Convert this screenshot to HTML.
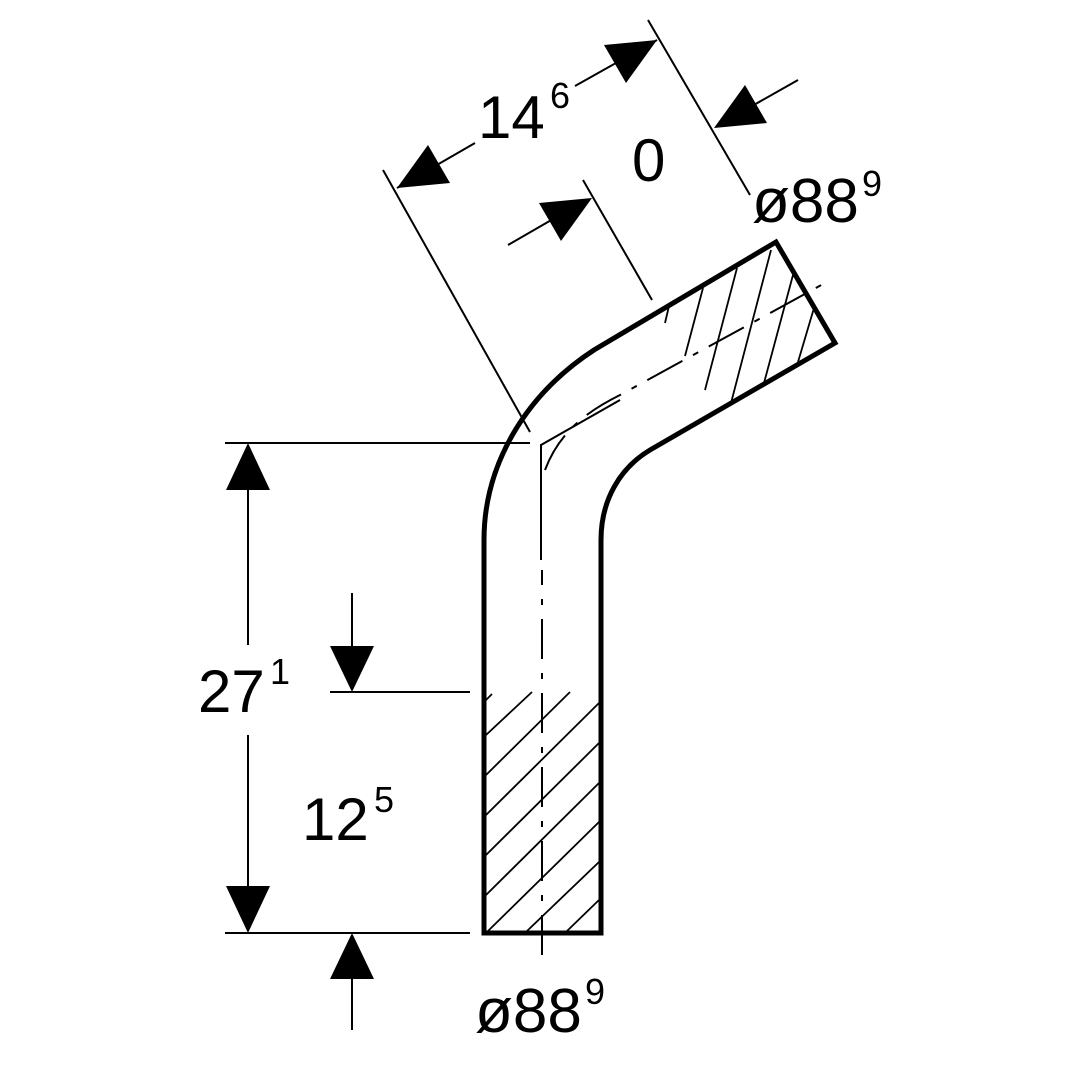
<!DOCTYPE html>
<html><head><style>body{margin:0;background:#fff}svg{display:block}text{font-family:"Liberation Sans",sans-serif;fill:#000}</style></head>
<body>
<svg width="1080" height="1080" viewBox="0 0 1080 1080">
<g fill="none" stroke="#000">
<path d="M484,933 L484,540 C484,465 525,395 594,350 L776,242 L835,343 L650,450 C620,468 601,500 601,540 L601,933 Z" stroke-width="5" stroke-linejoin="miter"/>
<path d="M541,560 L541,445 L620,400" stroke-width="2"/>
<path d="M542,955 L542,570" stroke-width="2" stroke-dasharray="40,14,6,14"/>
<path d="M545,470 C560,430 590,410 620,395 L825,283" stroke-width="2" stroke-dasharray="40,12,6,12"/>
<g stroke-width="1.8">
<line x1="486" y1="735" x2="532" y2="692"/>
<line x1="486" y1="775" x2="570" y2="692"/>
<line x1="486" y1="815" x2="599" y2="703"/>
<line x1="486" y1="855" x2="599" y2="743"/>
<line x1="486" y1="895" x2="599" y2="783"/>
<line x1="488" y1="931" x2="599" y2="822"/>
<line x1="527" y1="931" x2="599" y2="862"/>
<line x1="567" y1="931" x2="599" y2="900"/>
<line x1="486" y1="700" x2="492" y2="694"/>
</g>
<g stroke-width="1.8">
<line x1="665" y1="323" x2="669" y2="306"/>
<line x1="685" y1="356" x2="703" y2="288"/>
<line x1="705" y1="390" x2="737" y2="268"/>
<line x1="731" y1="403" x2="771" y2="250"/>
<line x1="764" y1="383" x2="793" y2="275"/>
<line x1="798" y1="362" x2="814" y2="308"/>
</g>
<g stroke-width="2">
<line x1="225" y1="443" x2="530" y2="443"/>
<line x1="225" y1="933" x2="470" y2="933"/>
<line x1="330" y1="692" x2="470" y2="692"/>
<line x1="248" y1="490" x2="248" y2="645"/>
<line x1="248" y1="735" x2="248" y2="886"/>
<line x1="352" y1="593" x2="352" y2="650"/>
<line x1="352" y1="975" x2="352" y2="1030"/>
<line x1="383" y1="170" x2="530" y2="432"/>
<line x1="648" y1="20" x2="750" y2="195"/>
<line x1="583" y1="180" x2="652" y2="300"/>
<line x1="397" y1="188" x2="475" y2="143"/>
<line x1="575" y1="86" x2="657" y2="40"/>
<line x1="508" y1="245" x2="560" y2="215"/>
<line x1="745" y1="110" x2="798" y2="80"/>
</g>
</g>
<g fill="#000">
<polygon points="248,443 226,490 270,490"/>
<polygon points="248,933 226,886 270,886"/>
<polygon points="352,692 330,646 374,646"/>
<polygon points="352,933 330,979 374,979"/>
<polygon points="397,188 450,183 428,145"/>
<polygon points="657,40 626,83 604,45"/>
<polygon points="592,198 561,241 539,203"/>
<polygon points="714,128 767,123 745,85"/>
</g>
<text x="478" y="138" font-size="60">14</text><text x="550" y="108" font-size="36">6</text>
<text x="632" y="181" font-size="60">0</text>
<text x="752" y="222" font-size="62">ø88</text><text x="862" y="196" font-size="36">9</text>
<text x="198" y="712" font-size="60">27</text><text x="270" y="684" font-size="36">1</text>
<text x="302" y="840" font-size="60">12</text><text x="374" y="812" font-size="36">5</text>
<text x="475" y="1032" font-size="62">ø88</text><text x="585" y="1004" font-size="36">9</text>
</svg>
</body></html>
